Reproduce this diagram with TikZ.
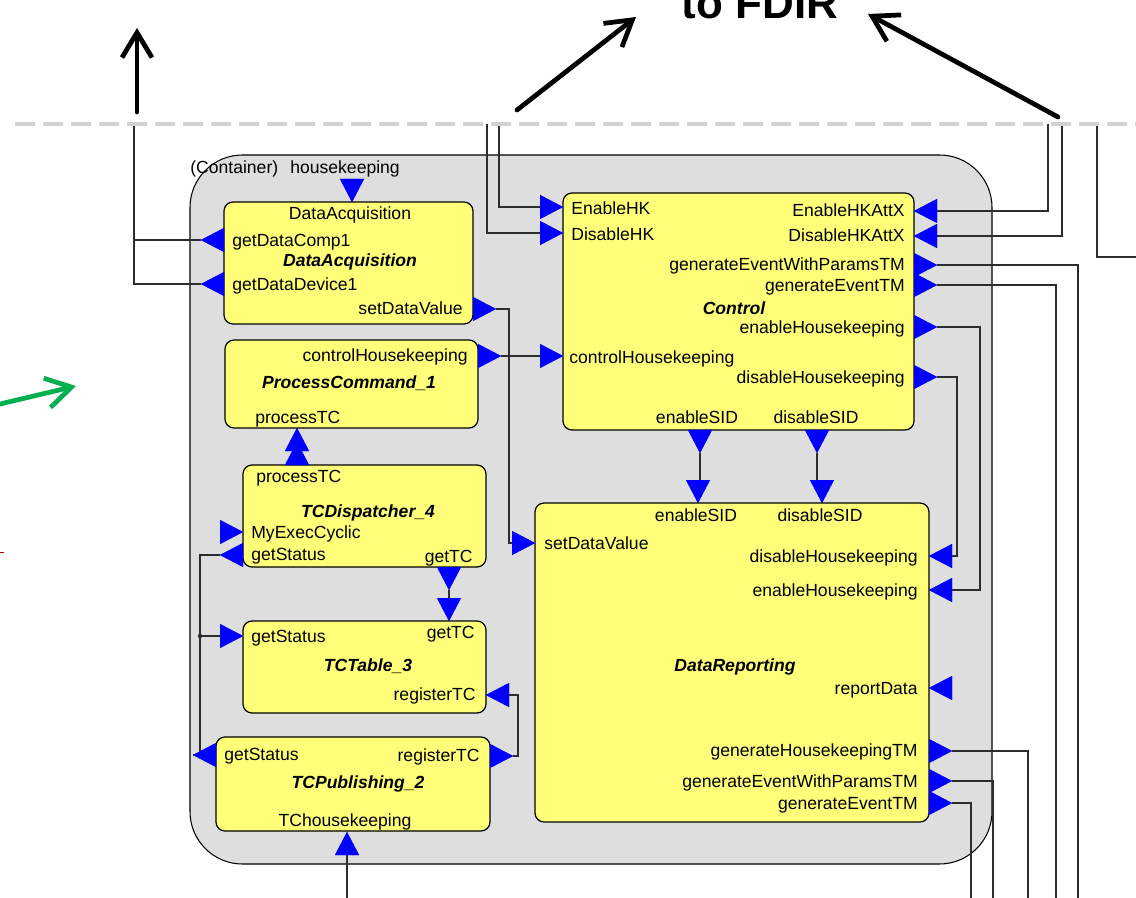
\documentclass[tikz,border=0pt]{standalone}
\usepackage{fontspec}
\setmainfont{Liberation Sans}
\usetikzlibrary{arrows.meta,positioning,fit}
\definecolor{yelbox}{RGB}{255,255,122}
\definecolor{contgray}{RGB}{222,222,222}
\definecolor{portblue}{RGB}{0,0,255}
\definecolor{wiregray}{RGB}{45,45,45}
\definecolor{fdirgreen}{RGB}{0,176,80}
\definecolor{cutgray}{RGB}{210,210,210}
\tikzset{
  pics/portin/.style={code={
    \fill[portblue] (0,0) -- (23,-12) -- (23,12) -- cycle;
    \coordinate (-o) at (23,0);}},
  pics/portout/.style={code={
    \fill[portblue] (0,-12) -- (23,0) -- (0,12) -- cycle;
    \coordinate (-o) at (23,0);}}
}

\begin{document}
\begin{tikzpicture}[x=0.02cm, y=-0.02cm, >={Straight Barb[length=5mm,width=6mm]}]
			\tikzstyle{blk}=[draw, fill=yelbox, rounded corners=0.18cm, inner sep=0pt, line width=0.7pt]
			\tikzstyle{cont}=[draw, fill=contgray, rounded corners=1.05cm, inner sep=0pt, line width=0.6pt]
			\tikzstyle{lbl}=[inner sep=0pt, text height=7pt, text depth=0pt, font=\fontsize{10}{12}\selectfont]
			\tikzstyle{ttl}=[lbl, font=\fontsize{10}{12}\selectfont\bfseries\itshape]
			\tikzstyle{wire}=[draw=wiregray, line width=0.7pt]
			\tikzstyle{fdir}=[->, line width=2.7pt, line cap=round]
			\path[use as bounding box] (0,0) rectangle (1136,898);
			\clip (0,0) rectangle (1136,898);
			% container and blocks
			\node[cont, fit={(190,155) (992,864)}] (hkcont) {};
			\node[blk, fit={(224,202) (473,324)}] (dacq) {};
			\node[blk, fit={(225,340) (478,428)}] (pcmd) {};
			\node[blk, fit={(243,465) (486,567)}] (tcdisp) {};
			\node[blk, fit={(243,621) (486,713)}] (tctab) {};
			\node[blk, fit={(216,737) (490,831)}] (tcpub) {};
			\node[blk, fit={(563,193) (914,430)}] (ctrl) {};
			\node[blk, fit={(535,503) (929,822)}] (drep) {};
			% free ends
			\coordinate (hkup) at (134,124);
			\coordinate (cutA) at (487,124);
			\coordinate (cutB) at (499,124);
			\coordinate (cutC) at (1048,124);
			\coordinate (cutD) at (1062,124);
			\coordinate (cutE) at (1097,124);
			\coordinate (edgeE) at (1136,257);
			\coordinate (botA) at (1078,898);
			\coordinate (botB) at (1056,898);
			\coordinate (botC) at (347,898);
			\coordinate (botD) at (1028,898);
			\coordinate (botE) at (993,898);
			\coordinate (botF) at (971,898);
			\coordinate (gsj) at (200,636);
			% ports
			\pic[rotate=90] (dahk) at (352,202) {portin};
			\pic[rotate=180] (dacomp) at (224,240) {portout};
			\pic[rotate=180] (dadev) at (224,284) {portout};
			\pic (daset) at (473,309) {portout};
			\pic (pcch) at (478,356) {portout};
			\pic[rotate=270] (pctc) at (297,428) {portin};
			\pic[rotate=90] (tdtc) at (297,465) {portout};
			\pic[rotate=180] (tdexec) at (243,532) {portin};
			\pic[rotate=180] (tdstat) at (243,555) {portout};
			\pic[rotate=270] (tdgettc) at (449,567) {portout};
			\pic[rotate=90] (ttgettc) at (449,621) {portin};
			\pic[rotate=180] (ttstat) at (243,636) {portin};
			\pic (ttreg) at (486,695) {portin};
			\pic[rotate=180] (tpstat) at (216,755) {portout};
			\pic (tpreg) at (490,756) {portout};
			\pic[rotate=270] (tphk) at (347,832) {portin};
			\pic[rotate=180] (cen) at (563,207) {portin};
			\pic[rotate=180] (cdis) at (563,233) {portin};
			\pic[rotate=180] (cch) at (563,356) {portin};
			\pic (cenx) at (914,211) {portin};
			\pic (cdisx) at (914,236) {portin};
			\pic (cevp) at (914,265) {portout};
			\pic (cev) at (914,285) {portout};
			\pic (cenhk) at (914,327) {portout};
			\pic (cdishk) at (914,377) {portout};
			\pic[rotate=270] (censid) at (700,430) {portout};
			\pic[rotate=270] (cdissid) at (817,430) {portout};
			\pic[rotate=90] (drensid) at (698,503) {portin};
			\pic[rotate=90] (drdissid) at (822,503) {portin};
			\pic[rotate=180] (drset) at (535,543) {portin};
			\pic (drdishk) at (929,556) {portin};
			\pic (drenhk) at (929,590) {portin};
			\pic (drrep) at (929,688) {portin};
			\pic (drhktm) at (929,751) {portout};
			\pic (drevp) at (929,781) {portout};
			\pic (drev) at (929,803) {portout};
			% wires
			\draw[wire] (dadev-o) -| (hkup);
			\draw[wire] (dacomp-o) -- (dacomp-o -| hkup);
			\draw[wire] (cen-o) -| (cutB);
			\draw[wire] (cdis-o) -| (cutA);
			\draw[wire] (cenx-o) -| (cutC);
			\draw[wire] (cdisx-o) -| (cutD);
			\draw[wire] (cutE) |- (edgeE);
			\draw[wire] (cevp-o) -| (botA);
			\draw[wire] (cev-o) -| (botB);
			\draw[wire] (cenhk-o) -- ++(43,0) |- (drenhk-o);
			\draw[wire] (cdishk-o) -- ++(20,0) |- (drdishk-o);
			\draw[wire] (censid-o) -- (censid-o |- drensid-o);
			\draw[wire] (cdissid-o) -- (cdissid-o |- drdissid-o);
			\draw[wire] (daset-o) -- ++(13,0) |- (drset-o);
			\draw[wire] (pcch-o) -- (cch-o);
			\draw[wire] (pctc-o) -- (tdtc-o);
			\draw[wire] (tdgettc-o) -- (ttgettc-o);
			\draw[wire] (tdstat-o) -- ++(-20,0) |- (tpstat-o);
			\draw[wire] (gsj) -- (ttstat-o);
			\fill[wiregray] (gsj) circle (2.2);
			\draw[wire] (tpreg-o) -- ++(5,0) |- (ttreg-o);
			\draw[wire] (tphk-o) -- (botC);
			\draw[wire] (drhktm-o) -| (botD);
			\draw[wire] (drevp-o) -| (botE);
			\draw[wire] (drev-o) -| (botF);
			% redraw ports above the wires
			\foreach \p/\r/\x/\y in {dahk/90/352/202, pctc/270/297/428, ttgettc/90/449/621, ttstat/180/243/636, tdexec/180/243/532, ttreg/0/486/695, tphk/270/347/832, cen/180/563/207, cdis/180/563/233, cch/180/563/356, cenx/0/914/211, cdisx/0/914/236, drensid/90/698/503, drdissid/90/822/503, drset/180/535/543, drdishk/0/929/556, drenhk/0/929/590, drrep/0/929/688}
				\fill[portblue, shift={(\x,\y)}, rotate=\r] (0,0) -- (23,-12) -- (23,12) -- cycle;
			\foreach \p/\r/\x/\y in {dacomp/180/224/240, dadev/180/224/284, daset/0/473/309, pcch/0/478/356, tdtc/90/297/465, tdstat/180/243/555, tdgettc/270/449/567, tpstat/180/216/755, tpreg/0/490/756, cevp/0/914/265, cev/0/914/285, cenhk/0/914/327, cdishk/0/914/377, censid/270/700/430, cdissid/270/817/430, drhktm/0/929/751, drevp/0/929/781, drev/0/929/803}
				\fill[portblue, shift={(\x,\y)}, rotate=\r] (0,-12) -- (23,0) -- (0,12) -- cycle;
			% port names
			\node[lbl, anchor=west] (t1) at (190,167) {(Container)};
			\node[lbl, anchor=west] (t2) at (290,167) {housekeeping};
			\node[lbl] (t3) at (350,213) {DataAcquisition};
			\node[lbl, anchor=west] (t4) at (232,240) {getDataComp1};
			\node[ttl] (t5) at (350,260) {DataAcquisition};
			\node[lbl, anchor=west] (t6) at (232,284) {getDataDevice1};
			\node[lbl, anchor=east] (t7) at (463,308) {setDataValue};
			\node[lbl, anchor=east] (t8) at (468,355) {controlHousekeeping};
			\node[ttl] (t9) at (349,382) {ProcessCommand\_1};
			\node[lbl, anchor=west] (t10) at (255,417) {processTC};
			\node[lbl, anchor=west] (t11) at (256,476) {processTC};
			\node[ttl] (t12) at (368,511) {TCDispatcher\_4};
			\node[lbl, anchor=west] (t13) at (251,532) {MyExecCyclic};
			\node[lbl, anchor=west] (t14) at (251,554) {getStatus};
			\node[lbl, anchor=east] (t15) at (473,556) {getTC};
			\node[lbl, anchor=west] (t16) at (251,636) {getStatus};
			\node[lbl, anchor=east] (t17) at (475,632) {getTC};
			\node[ttl] (t18) at (368,665) {TCTable\_3};
			\node[lbl, anchor=east] (t19) at (476,694) {registerTC};
			\node[lbl, anchor=west] (t20) at (224,754) {getStatus};
			\node[lbl, anchor=east] (t21) at (480,755) {registerTC};
			\node[ttl] (t22) at (358,782) {TCPublishing\_2};
			\node[lbl] (t23) at (345,820) {TChousekeeping};
			\node[lbl, anchor=west] (t24) at (571,208) {EnableHK};
			\node[lbl, anchor=west] (t25) at (571,234) {DisableHK};
			\node[lbl, anchor=east] (t26) at (905,210) {EnableHKAttX};
			\node[lbl, anchor=east] (t27) at (905,235) {DisableHKAttX};
			\node[lbl, anchor=east] (t28) at (905,264) {generateEventWithParamsTM};
			\node[lbl, anchor=east] (t29) at (905,285) {generateEventTM};
			\node[ttl] (t30) at (734,308) {Control};
			\node[lbl, anchor=east] (t31) at (905,327) {enableHousekeeping};
			\node[lbl, anchor=west] (t32) at (569,357) {controlHousekeeping};
			\node[lbl, anchor=east] (t33) at (905,377) {disableHousekeeping};
			\node[lbl] (t34) at (697,417) {enableSID};
			\node[lbl] (t35) at (816,417) {disableSID};
			\node[lbl] (t36) at (696,515) {enableSID};
			\node[lbl] (t37) at (820,515) {disableSID};
			\node[lbl, anchor=west] (t38) at (544,543) {setDataValue};
			\node[lbl, anchor=east] (t39) at (918,556) {disableHousekeeping};
			\node[lbl, anchor=east] (t40) at (918,590) {enableHousekeeping};
			\node[ttl] (t41) at (735,665) {DataReporting};
			\node[lbl, anchor=east] (t42) at (918,688) {reportData};
			\node[lbl, anchor=east] (t43) at (918,750) {generateHousekeepingTM};
			\node[lbl, anchor=east] (t44) at (918,781) {generateEventWithParamsTM};
			\node[lbl, anchor=east] (t45) at (918,803) {generateEventTM};
			% cut line and FDIR arrows
			\draw[cutgray, line width=2.4pt, dash pattern=on 0.4cm off 0.16cm] (15,124) -- (1136,124);
			\node[font=\fontsize{25}{30}\selectfont\bfseries, anchor=base, inner sep=0pt] (fdirlbl) at (760,19) {to FDIR};
			\coordinate (upA) at (137,112);
			\coordinate (upB) at (137,28);
			\coordinate (ltA) at (517,110);
			\coordinate (ltB) at (636,17);
			\coordinate (rtA) at (1058,117);
			\coordinate (rtB) at (868,14);
			\draw[fdir] (upA) -- (upB);
			\draw[fdir] (ltA) -- (ltB);
			\draw[fdir] (rtA) -- (rtB);
			\coordinate (grA) at (0,404);
			\coordinate (grB) at (76,386);
			\draw[fdir, fdirgreen] (grA) -- (grB);
			\draw[red!75!black, line width=0.5pt] (0,552) -- (4,552);
		\end{tikzpicture}
\end{document}
